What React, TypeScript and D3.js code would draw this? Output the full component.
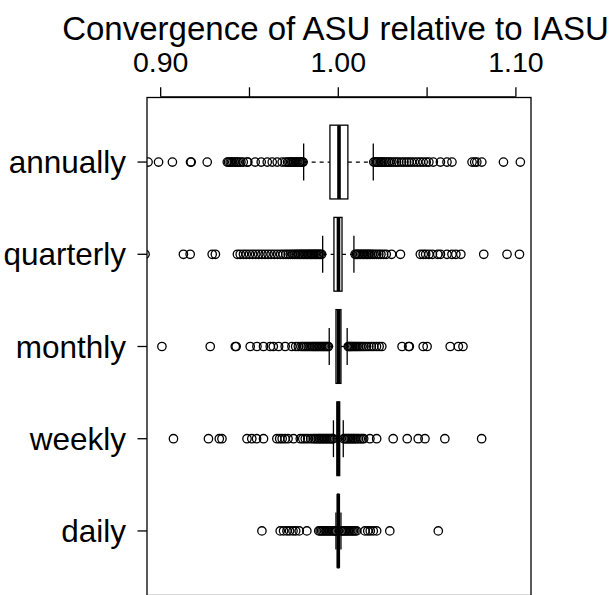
import * as d3 from "d3";
import React, { useEffect, useRef } from "react";

// グループ名（上から順）
const groups = ["annually", "quarterly", "monthly", "weekly", "daily"];

// 箱ひげ図の統計量 [下ひげ, Q1, 中央値, Q3, 上ひげ]
const annuallyStats = [0.9805, 0.9953, 1.0004, 1.0054, 1.0197];
const quarterlyStats = [0.9912, 0.99755, 1.0001, 1.0021, 1.0088];
const monthlyStats = [0.9949, 0.9987, 1.0002, 1.0015, 1.005];
const weeklyStats = [0.99727, 0.99924, 1.0, 1.00076, 1.0028];
const dailyStats = [0.99868, 0.99958, 1.0, 1.00037, 1.0015];

// 外れ値
const annuallyOut = [
  0.8929, 0.8988, 0.9066, 0.9168, 0.9172, 0.9262, 0.9375, 0.9382, 0.9391, 0.9398,
  0.9406, 0.9415, 0.9423, 0.9431, 0.944, 0.9452, 0.9465, 0.9487, 0.9491, 0.9532,
  0.9566, 0.96, 0.9628, 0.9656, 0.9684, 0.9702, 0.9714, 0.9722, 0.9731, 0.9738,
  0.9745, 0.9752, 0.976, 0.9766, 0.9772, 0.9779, 0.9785, 0.9791, 0.9797, 0.9802,
  1.02, 1.0208, 1.0215, 1.0222, 1.023, 1.0238, 1.0245, 1.0252, 1.0262, 1.027,
  1.0281, 1.029, 1.0302, 1.0315, 1.0328, 1.034, 1.0356, 1.037, 1.0385, 1.0398,
  1.0412, 1.0428, 1.0445, 1.0462, 1.0478, 1.0495, 1.051, 1.0535, 1.0575, 1.0612,
  1.064, 1.0753, 1.0768, 1.078, 1.0808, 1.093, 1.1025,
];
const quarterlyOut = [
  0.8912, 0.9128, 0.9166, 0.929, 0.9308, 0.9432, 0.9448, 0.9466, 0.9482, 0.95,
  0.9518, 0.9535, 0.9552, 0.957, 0.9588, 0.9605, 0.9622, 0.964, 0.9658, 0.9675,
  0.969, 0.9705, 0.9718, 0.973, 0.9742, 0.9752, 0.9762, 0.9772, 0.978, 0.9788,
  0.9796, 0.9804, 0.9812, 0.982, 0.9828, 0.9836, 0.9843, 0.985, 0.9857, 0.9864,
  0.9871, 0.9878, 0.9885, 0.9892, 0.9899, 0.9906,
  1.0095, 1.0102, 1.011, 1.0118, 1.0126, 1.0134, 1.0142, 1.015, 1.0158, 1.0166,
  1.0174, 1.0182, 1.0192, 1.0202, 1.0215, 1.0228, 1.024, 1.0255, 1.027, 1.03,
  1.035, 1.0462, 1.0478, 1.0492, 1.051, 1.053, 1.056, 1.0575, 1.0612, 1.064,
  1.0662, 1.069, 1.0819, 1.095, 1.102,
];
const monthlyOut = [
  0.9007, 0.9279, 0.942, 0.9425, 0.9504, 0.9542, 0.9579, 0.9617, 0.9634, 0.9664,
  0.9701, 0.9739, 0.976, 0.9775, 0.979, 0.98, 0.981, 0.982, 0.983, 0.984,
  0.985, 0.9858, 0.9866, 0.9874, 0.9882, 0.989, 0.9898, 0.9906, 0.9914, 0.9922,
  0.993, 0.9938, 0.9944,
  1.0056, 1.0062, 1.0068, 1.0075, 1.0082, 1.009, 1.0098, 1.0106, 1.0115, 1.0124,
  1.0134, 1.0145, 1.0158, 1.0172, 1.0186, 1.02, 1.0215, 1.023, 1.0245, 1.0359,
  1.0396, 1.04, 1.0478, 1.05, 1.063, 1.0676, 1.0702,
];
const weeklyOut = [
  0.9072, 0.9269, 0.933, 0.9345, 0.9486, 0.9513, 0.954, 0.9579, 0.9654, 0.967,
  0.9684, 0.97, 0.9717, 0.9748, 0.9786, 0.98, 0.9814, 0.9828, 0.9845, 0.9859,
  0.9868, 0.9877, 0.9886, 0.9894, 0.9902, 0.991, 0.9918, 0.9926, 0.9934, 0.9942,
  0.995, 0.9958, 0.9965, 0.997,
  1.0032, 1.004, 1.0048, 1.0056, 1.0064, 1.0072, 1.008, 1.0088, 1.0096, 1.0105,
  1.0114, 1.0124, 1.0134, 1.0143, 1.0178, 1.0216, 1.0309, 1.0388, 1.045, 1.0488,
  1.06, 1.0807,
];
const dailyOut = [
  0.957, 0.9673, 0.9692, 0.9711, 0.9726, 0.9745, 0.976, 0.978, 0.9823, 0.989,
  0.9898, 0.9906, 0.9914, 0.9922, 0.993, 0.9938, 0.9946, 0.9954, 0.9962, 0.997,
  0.9977, 0.9983, 0.9987,
  1.0017, 1.0024, 1.0031, 1.0038, 1.0046, 1.0054, 1.0062, 1.007, 1.0078, 1.0086,
  1.0094, 1.0103, 1.015, 1.0166, 1.018, 1.0197, 1.0216, 1.029, 1.0563,
];

const tickValues = [0.9, 0.95, 1.0, 1.05, 1.1];
const tickLabels = ["0.90", "", "1.00", "", "1.10"];
const title = "Convergence of ASU relative to IASU";

const allStats = [annuallyStats, quarterlyStats, monthlyStats, weeklyStats, dailyStats];
const allOut = [annuallyOut, quarterlyOut, monthlyOut, weeklyOut, dailyOut];

export default function App() {
  const svgRef = useRef<SVGSVGElement>(null);

  useEffect(() => {
    const width = 611, height = 595;
    const left = 147, right = 531, top = 97.5, bottom = 595.5;
    const font = "'Liberation Sans', Arial, Helvetica, sans-serif";

    const svg = d3.select(svgRef.current);
    svg.selectAll("*").remove();
    svg.attr("width", width).attr("height", height);

    const x = d3.scaleLinear().domain([0.8923, 1.1085]).range([left, right]);
    // R と同じく 0.5〜5.5 に 4% の余白
    const y = d3.scaleLinear().domain([0.3, 5.7]).range([bottom, top]);
    const pos = (i: number) => groups.length - i;
    const unit = Math.abs(y(1) - y(0));
    const halfBox = 0.4 * unit;
    const halfStaple = 0.2 * unit;

    svg.append("defs").append("clipPath").attr("id", "plotclip")
      .append("rect").attr("x", left).attr("y", top)
      .attr("width", right - left).attr("height", bottom - top);

    const plot = svg.append("g").attr("clip-path", "url(#plotclip)");

    allStats.forEach((s, i) => {
      const cy = y(pos(i));
      const g = plot.append("g");
      // ひげ（破線）
      g.append("line").attr("x1", x(s[0])).attr("x2", x(s[1])).attr("y1", cy).attr("y2", cy)
        .attr("stroke", "#000").attr("stroke-width", 1.3).attr("stroke-dasharray", "4,4");
      g.append("line").attr("x1", x(s[3])).attr("x2", x(s[4])).attr("y1", cy).attr("y2", cy)
        .attr("stroke", "#000").attr("stroke-width", 1.3).attr("stroke-dasharray", "4,4");
      // ひげの端
      [s[0], s[4]].forEach((v) => {
        g.append("line").attr("x1", x(v)).attr("x2", x(v))
          .attr("y1", cy - halfStaple).attr("y2", cy + halfStaple)
          .attr("stroke", "#000").attr("stroke-width", 1.3);
      });
      // 箱
      g.append("rect").attr("x", x(s[1])).attr("y", cy - halfBox)
        .attr("width", x(s[3]) - x(s[1])).attr("height", 2 * halfBox)
        .attr("fill", "#fff").attr("stroke", "#000").attr("stroke-width", 1.3);
      // 中央値
      g.append("line").attr("x1", x(s[2])).attr("x2", x(s[2]))
        .attr("y1", cy - halfBox).attr("y2", cy + halfBox)
        .attr("stroke", "#000").attr("stroke-width", 3.6);
    });

    // 外れ値
    allOut.forEach((vals, i) => {
      const cy = y(pos(i));
      plot.selectAll(null).data(vals).enter().append("circle")
        .attr("cx", (d) => x(d)).attr("cy", cy).attr("r", 4.2)
        .attr("fill", "none").attr("stroke", "#000").attr("stroke-width", 1.3);
    });

    // 枠
    svg.append("rect").attr("x", left).attr("y", top)
      .attr("width", right - left).attr("height", bottom - top)
      .attr("fill", "none").attr("stroke", "#000").attr("stroke-width", 1.3);

    // 上の軸
    const axisY = 96.8;
    svg.append("line").attr("x1", x(tickValues[0])).attr("x2", x(tickValues[tickValues.length - 1]))
      .attr("y1", axisY).attr("y2", axisY).attr("stroke", "#000").attr("stroke-width", 1.3);
    tickValues.forEach((v, i) => {
      svg.append("line").attr("x1", x(v)).attr("x2", x(v)).attr("y1", axisY).attr("y2", axisY - 9.5)
        .attr("stroke", "#000").attr("stroke-width", 1.3);
      if (tickLabels[i]) {
        svg.append("text").attr("x", x(v)).attr("y", 72).attr("text-anchor", "middle")
          .style("font-family", font).style("font-size", "28.5px").text(tickLabels[i]);
      }
    });

    // 左の軸（目盛りとラベル）
    groups.forEach((name, i) => {
      const cy = y(pos(i));
      svg.append("line").attr("x1", left).attr("x2", left - 9.5).attr("y1", cy).attr("y2", cy)
        .attr("stroke", "#000").attr("stroke-width", 1.3);
      svg.append("text").attr("x", 126).attr("y", cy + 11).attr("text-anchor", "end")
        .style("font-family", font).style("font-size", "31.5px").text(name);
    });

    // タイトル
    svg.append("text").attr("x", 335.5).attr("y", 40).attr("text-anchor", "middle")
      .style("font-family", font).style("font-size", "33px").text(title);
  }, []);

  return (
    <svg ref={svgRef} style={{ position: "absolute", left: 0, top: 0, background: "#fff" }} />
  );
}
